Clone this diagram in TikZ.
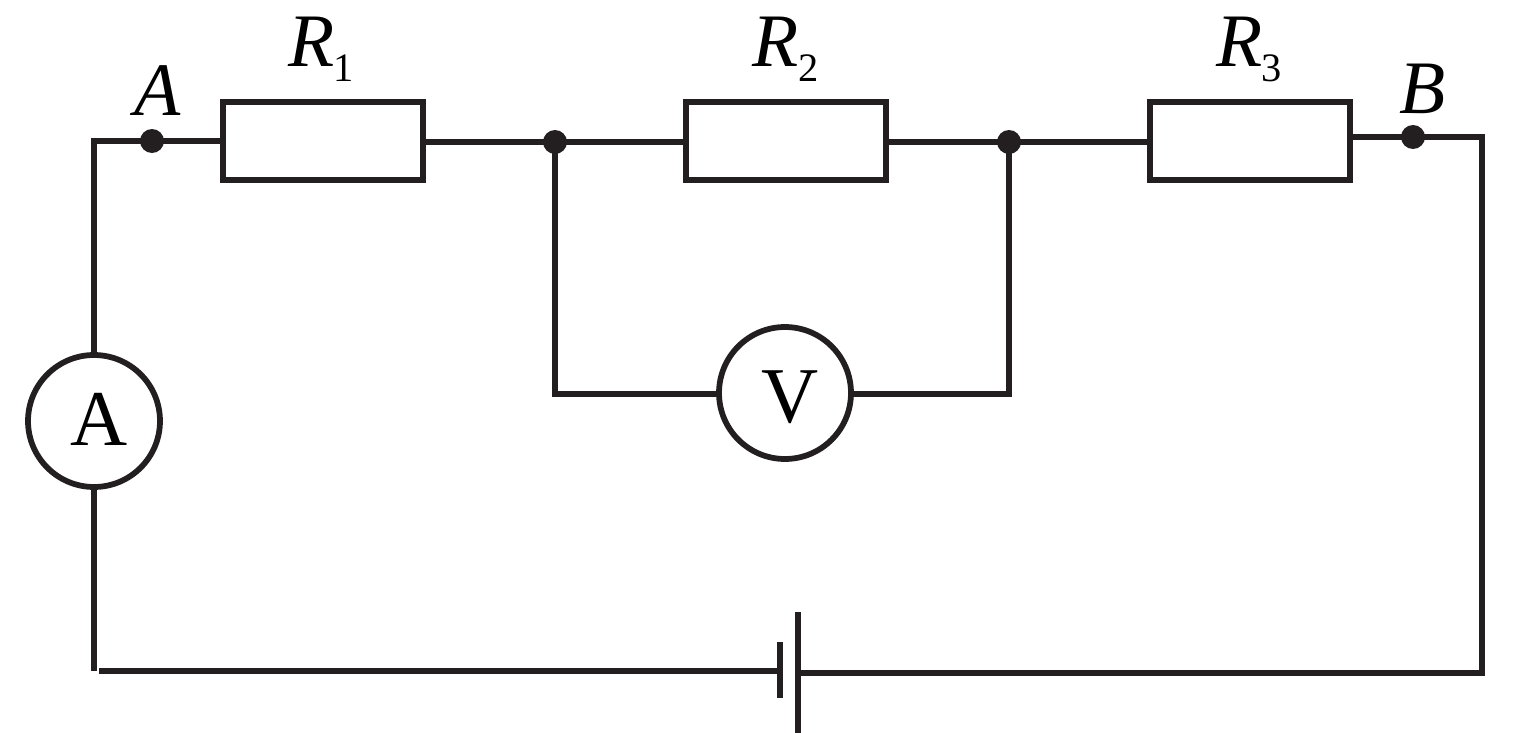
\documentclass[tikz,border=0pt]{standalone}
\usepackage{fontspec}
\setmainfont{Liberation Serif}
\definecolor{ink}{HTML}{231F20}
\tikzset{
  x=0.02cm,y=-0.02cm,
  wire/.style={draw=ink,line width=0.115cm},
  res/.style={draw=ink,line width=0.115cm,fill=white,minimum width=4.0cm,minimum height=1.56cm,inner sep=0pt,outer sep=0pt},
  meter/.style={circle,draw=ink,line width=0.115cm,fill=white,minimum size=2.64cm,inner sep=0pt,outer sep=0pt},
  meterlab/.style={inner sep=0pt,font=\fontsize{45}{45}\selectfont},
  dot/.style={circle,fill=ink,minimum size=0.48cm,inner sep=0pt,outer sep=0pt},
  lab/.style={inner sep=0pt,font=\fontsize{43}{43}\selectfont\itshape},
  subl/.style={inner sep=0pt,font=\fontsize{23}{23}\selectfont}
}
\begin{document}
\begin{tikzpicture}
\useasboundingbox (0,0) rectangle (1524,733);
\fill[white] (0,0) rectangle (1524,733);
\coordinate (TL) at (94,141);
\coordinate (BL) at (94,671);
\coordinate (TR) at (1482,137);
\coordinate (BR) at (1482,673);
\node[res] (R1) at (323,141) {};
\node[res] (R2) at (786,141) {};
\node[res] (R3) at (1250,141) {};
\node[dot] (A) at (152,141) {};
\node[dot] (J1) at (555,142) {};
\node[dot] (J2) at (1009,142) {};
\node[dot] (B) at (1413,137) {};
\node[meter] (MA) at (94,421) {};
\node[meter] (MV) at (785,393) {};
\node[meterlab] (TA) at (99,419) {A};
\node[meterlab] (TV) at (790,397) {V};
\coordinate (VL) at (555,394);
\coordinate (VR) at (1009,394);
\coordinate (C1t) at (780,642);
\coordinate (C1b) at (780,698);
\coordinate (C2t) at (798,612);
\coordinate (C2b) at (798,733);
\coordinate (C1m) at (780,671);
\coordinate (C2m) at (798,673);
\coordinate (L0) at (99,671);
\draw[wire,line join=miter] (MA.north) -- (TL) -- (A.center) -- (R1.west);
\draw[wire] (R1.east |- J1) -- (J1.center) -- (R2.west |- J1);
\draw[wire] (R2.east |- J2) -- (J2.center) -- (R3.west |- J2);
\draw[wire,line join=miter] (R3.east |- B) -- (B.center) -- (TR) -- (BR) -- (C2m);
\draw[wire] (MA.south) -- (BL);
\draw[wire] (L0) -- (C1m);
\draw[wire,line join=miter] (J1.center) -- (VL) -- (MV.west |- VL);
\draw[wire,line join=miter] (J2.center) -- (VR) -- (MV.east |- VR);
\draw[wire] (C1t) -- (C1b);
\draw[wire] (C2t) -- (C2b);
\node[lab] (LR1) at (312,42) {R};
\node[subl] (S1) at (344,68) {1};
\node[lab] (LR2) at (776,42) {R};
\node[subl] (S2) at (809,68) {2};
\node[lab] (LR3) at (1240,42) {R};
\node[subl] (S3) at (1272,68) {3};
\node[lab] (LA) at (158,91) {A};
\node[lab] (LB) at (1423,89) {B};
\end{tikzpicture}
\end{document}
